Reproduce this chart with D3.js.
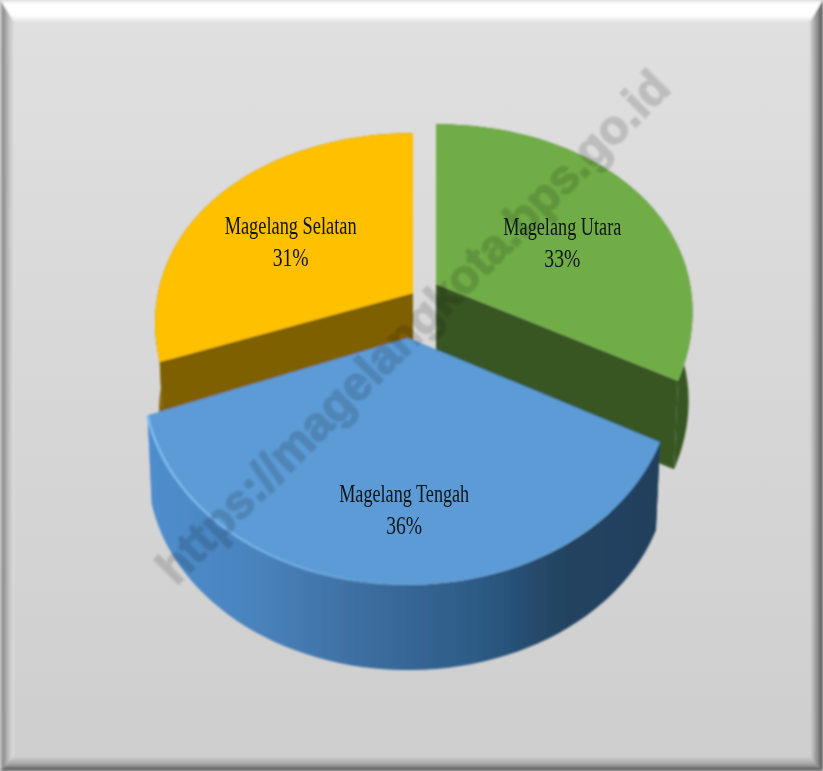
<!DOCTYPE html>
<html><head><meta charset="utf-8">
<script src="https://cdn.jsdelivr.net/npm/d3@7/dist/d3.min.js"></script>
<style>html,body{margin:0;padding:0;background:#ddd}svg{display:block}</style>
</head><body><svg id="c" width="823" height="771"></svg>
<script>
const categories = ["Magelang Utara", "Magelang Tengah", "Magelang Selatan"];
const values = [33, 36, 31];
const topColors = ["#70AD47", "#5B9BD5", "#FFC000"];
const wallColors = ["#385723", "#2a5580", "#7F6000"];
const watermark = "https://magelangkota.bps.go.id";

const W = 823, H = 771;
const svg = d3.select("#c");
const defs = svg.append("defs");
function grad(id, x1, y1, x2, y2, stops, user) {
  const g = defs.append("linearGradient").attr("id", id)
    .attr("x1", x1).attr("y1", y1).attr("x2", x2).attr("y2", y2);
  if (user) g.attr("gradientUnits", "userSpaceOnUse");
  stops.forEach(s => {
    const st = g.append("stop").attr("offset", s[0]).attr("stop-color", s[1]);
    if (s[2] !== undefined) st.attr("stop-opacity", s[2]);
  });
}
grad("bg", 0, 0, 0, 1, [[0, "#e0e0e0"], [1, "#cecece"]]);
grad("fTop", 0, 0, 0, 1, [[0, "#dcdcdc"], [.15, "#ffffff"], [.7, "#ffffff"], [1, "#e2e2e2"]]);
grad("fLeft", 0, 0, 1, 0, [[0, "#cfcfcf"], [.2, "#8a8a8a"], [.6, "#bdbdbd"], [1, "#dfdfdf"]]);
grad("fRight", 0, 0, 1, 0, [[0, "#d4d4d4"], [.6, "#8a8a8a"], [.9, "#5a5a5a"], [1, "#8a8a8a"]]);
grad("fBottom", 0, 0, 0, 1, [[0, "#cdcdcd"], [.55, "#a0a0a0"], [.9, "#5e5e5e"], [1, "#8a8a8a"]]);
grad("blueWall", 145, 0, 662, 0, [[0, "#4f8ecd"], [.2, "#4a84bf"], [.4, "#3e70a3"], [.65, "#2c5a85"], [.8, "#234462"], [1, "#213f5c"]], true);
grad("blueRim", 145, 0, 400, 0, [[0, "#7fbcf0", 1], [.6, "#78b4ea", .7], [1, "#78b4ea", 0]], true);
const blur = defs.append("filter").attr("id", "soft").attr("x", "-5%").attr("y", "-5%").attr("width", "110%").attr("height", "110%");
blur.append("feGaussianBlur").attr("stdDeviation", 0.8);
const blurText = defs.append("filter").attr("id", "softText");
blurText.append("feGaussianBlur").attr("stdDeviation", 0.5);

// Frame
svg.append("rect").attr("width", W).attr("height", H).attr("fill", "url(#bg)");
const frame = svg.append("g").attr("filter", "url(#soft)");
const line = d3.line();
frame.append("path").attr("d", line([[0, 0], [W, 0], [W - 13, 22], [14, 22]]) + "Z").attr("fill", "url(#fTop)");
frame.append("path").attr("d", line([[0, 0], [14, 22], [14, H - 14], [0, H]]) + "Z").attr("fill", "url(#fLeft)");
frame.append("path").attr("d", line([[W, 0], [W, H], [W - 13, H - 14], [W - 13, 22]]) + "Z").attr("fill", "url(#fRight)");
frame.append("path").attr("d", line([[0, H], [W, H], [W - 13, H - 14], [14, H - 14]]) + "Z").attr("fill", "url(#fBottom)");

// Perspective disc projection, one set of view settings per exploded slice
const P = 0.214, A = 194, DEPTH = 90, SHRINK = 0.985;
const apex = [[436, 284], [408, 338], [413, 293]];
const radius = [254, 258, 255];
const widen = [0.14, 0.214, 0.15];
const rad = Math.PI / 180;
const trimStart = [0, 0, 2.3 * rad];
const trimEnd = [-2 * rad, 0, 0];
const labelR = [0.6, 0.72, 0.62];
const labelShift = [[2, 14], [10, 5], [0, 12]];
const labelWidth = [118, 130, 132];
function proj(i, ang, r) {
  const u = Math.sin(ang) * r, v = -Math.cos(ang) * r;
  return [apex[i][0] + radius[i] * u / (1 - widen[i] * v), apex[i][1] + A * v / (1 - P * v)];
}
function bottom(i, ang, r) {
  const p = proj(i, ang, r * SHRINK);
  return [p[0], p[1] + DEPTH];
}
const pie = d3.pie().sort(null).startAngle(0).endAngle(2 * Math.PI);
const arcs = pie(values).map((a, i) => ({...a, startAngle: a.startAngle + trimStart[i], endAngle: a.endAngle + trimEnd[i]}));
const samples = a => d3.range(0, 61).map(k => a.startAngle + (a.endAngle - a.startAngle) * k / 60);

const chart = svg.append("g").attr("filter", "url(#soft)");
[2, 0, 1].forEach(i => {
  const a = arcs[i], pts = samples(a);
  const g = chart.append("g");
  const fillW = i === 1 ? "url(#blueWall)" : wallColors[i];
  const outer = pts.map(t => proj(i, t, 1)).concat(pts.slice().reverse().map(t => bottom(i, t, 1)));
  g.append("path").attr("d", line(outer) + "Z").attr("fill", fillW);
  [a.startAngle, a.endAngle].forEach(t => {
    const q = [proj(i, t, 1), proj(i, t, 0), bottom(i, t, 0), bottom(i, t, 1)];
    g.append("path").attr("d", line(q) + "Z").attr("fill", fillW);
  });
  const face = [proj(i, 0, 0)].concat(pts.map(t => proj(i, t, 1)));
  g.append("path").attr("d", line(face) + "Z").attr("fill", topColors[i]);
  if (i === 1) {
    g.append("path").attr("d", line(pts.map(t => proj(i, t, 1)))).attr("fill", "none")
      .attr("stroke", "url(#blueRim)").attr("stroke-width", 2.5);
  }
});

// Watermark
svg.append("text").attr("transform", "translate(424.5,338.5) rotate(-45)")
  .attr("text-anchor", "middle")
  .attr("font-family", "Liberation Sans").attr("font-weight", "bold").attr("font-size", 48)
  .attr("textLength", 702).attr("lengthAdjust", "spacingAndGlyphs")
  .attr("fill", "#000").attr("stroke", "#000").attr("stroke-width", 1.6)
  .attr("opacity", 0.14).attr("filter", "url(#soft)").text(watermark);

// Labels
const labels = svg.append("g").attr("font-family", "Liberation Serif").attr("font-size", 25)
  .attr("fill", "#101418").attr("filter", "url(#softText)");
arcs.forEach((a, i) => {
  const c = proj(i, (a.startAngle + a.endAngle) / 2, labelR[i]);
  const x = c[0] + labelShift[i][0], y = c[1] + labelShift[i][1];
  labels.append("text").attr("x", x).attr("y", y - 6).attr("text-anchor", "middle")
    .attr("textLength", labelWidth[i]).attr("lengthAdjust", "spacingAndGlyphs").text(categories[i]);
  labels.append("text").attr("x", x).attr("y", y + 26).attr("text-anchor", "middle")
    .attr("textLength", 36).attr("lengthAdjust", "spacingAndGlyphs").text(values[i] + "%");
});
</script></body></html>
